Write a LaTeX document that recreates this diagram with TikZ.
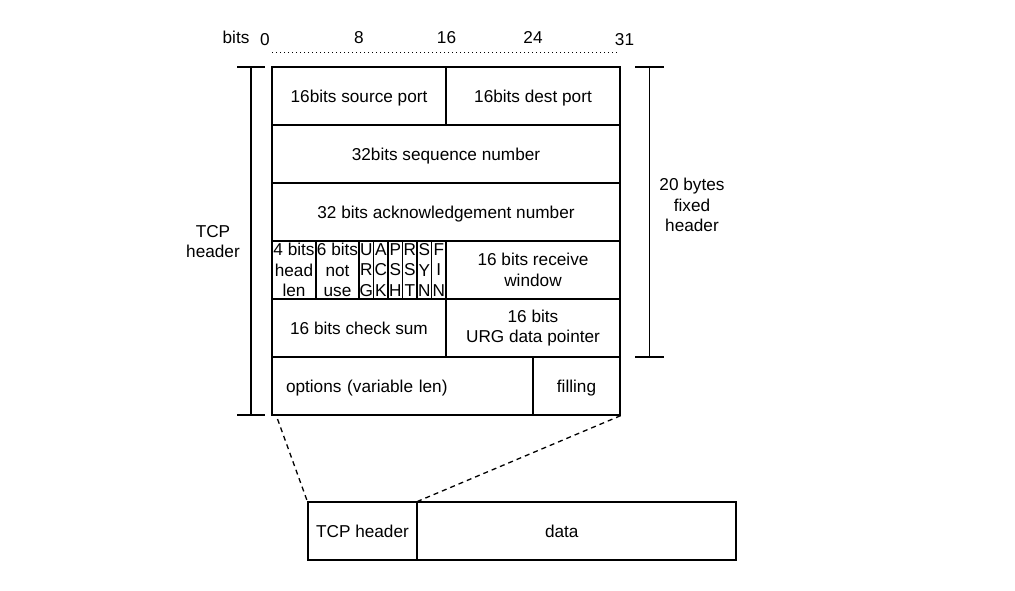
\documentclass[tikz,border=0pt]{standalone}
\usepackage{fontspec}
\setmainfont{Liberation Sans}
\begin{document}
\begin{tikzpicture}[x=1pt,y=-1pt,
    field/.style ={draw, line width=1.3pt, inner sep=0pt, align=center,
      font=\fontsize{17.2}{20.7}\selectfont, minimum height=58},
    oneline/.style ={field, text depth=0pt},
    flag/.style ={field, minimum width=14.5},
    caption/.style ={inner sep=0pt, align=center, font=\fontsize{17.2}{20.7}\selectfont},
    bracket/.style ={line width=1.3pt}]
   \useasboundingbox (0,0) rectangle (1015,591);

   \node[oneline, minimum width=174] (srcport) at (359,96) {16bits source port};
   \node[oneline, minimum width=174] (dstport) at (533,96) {16bits dest port};
   \node[oneline, minimum width=348] (seqnum) at (446,154) {32bits sequence number};
   \node[oneline, minimum width=348] (acknum) at (446,212) {32 bits acknowledgement number};
   \node[field, minimum width=44] (hdrlen) at (294,270) {4 bits\\head\\len};
   \node[field, minimum width=43] (notuse) at (337.5,270) {6 bits\\not\\use};
   \node[flag] (urg) at (366.25,270) {U\\R\\G};
   \node[flag] (ack) at (380.75,270) {A\\C\\K};
   \node[flag] (psh) at (395.25,270) {P\\S\\H};
   \node[flag] (rst) at (409.75,270) {R\\S\\T};
   \node[flag] (syn) at (424.25,270) {S\\Y\\N};
   \node[flag] (fin) at (438.75,270) {F\\I\\N};
   \node[field, minimum width=174] (window) at (533,270) {16 bits receive\\window};
   \node[oneline, minimum width=174] (checksum) at (359,328) {16 bits check sum};
   \node[field, minimum width=174] (urgptr) at (533,328) {16 bits\\URG data pointer};
   \node[oneline, text width=233, inner xsep=14, align=left] (options) at (402.5,386) {options (variable len)};
   \node[oneline, minimum width=87] (filling) at (576.5,386) {filling};

   \node[oneline, minimum width=109] (tcphdr) at (362.5,531) {TCP header};
   \node[oneline, text width=63, inner xsep=128, align=left] (data) at (576.5,531) {data};

   % bit ruler
   \node[caption, anchor=base] (bits) at (236,43.3) {bits};
   \node[caption, anchor=base] (bit0) at (265,45.7) {0};
   \node[caption, anchor=base] (bit8) at (359,43.3) {8};
   \node[caption, anchor=base] (bit16) at (446.5,43.3) {16};
   \node[caption, anchor=base] (bit24) at (533,43.3) {24};
   \node[caption, anchor=base] (bit31) at (624.5,45.7) {31};
   \coordinate (rulerstart) at (272,52.5);
   \coordinate (rulerend) at (617,52.5);
   \draw[line width=1.3pt, dash pattern=on 1.3pt off 2.7pt] (rulerstart) to (rulerend);

   % brackets
   \draw[bracket] (237,67) -- (265,67) (237,415) -- (265,415) (251,67) -- (251,415);
   \node[caption] (tcplabel) at (213,241.5) {TCP\\header};
   \draw[bracket] (635,67) -- (664,67) (635,357) -- (664,357) (649.5,67) -- (649.5,357);
   \node[caption] (fixedlabel) at (692,205) {20 bytes\\fixed\\header};

   % zoom lines
   \coordinate (zoomleft) at (277.5,419);
   \draw[line width=1.3pt, dash pattern=on 5pt off 4pt] (zoomleft) to (tcphdr.north west);
   \draw[line width=1.3pt, dash pattern=on 5pt off 4pt] (filling.south east) to (tcphdr.north east);
 \end{tikzpicture}
\end{document}
